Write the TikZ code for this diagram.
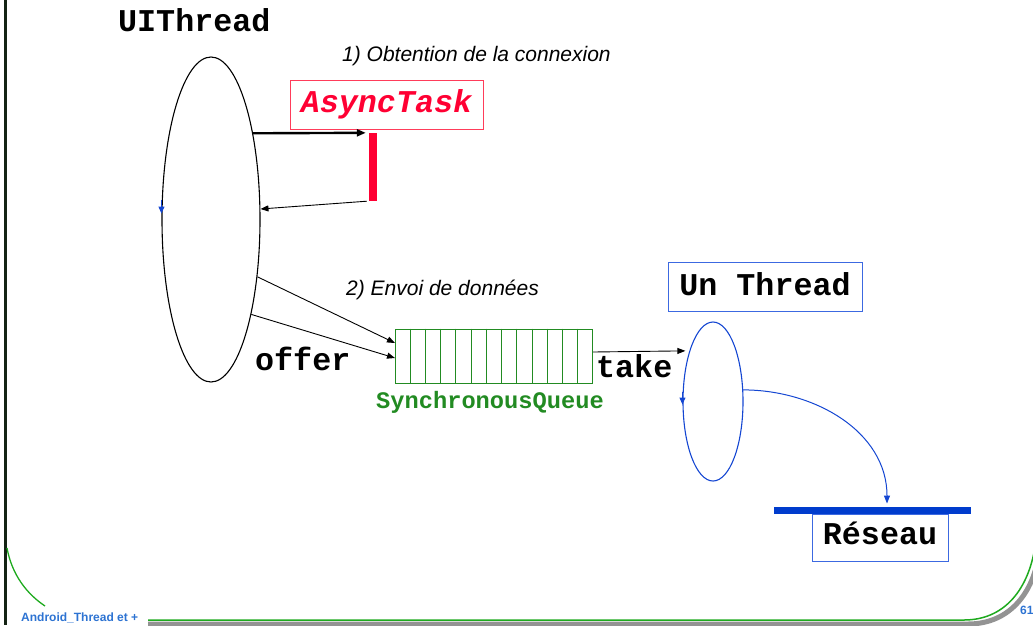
\documentclass[tikz,border=0pt]{standalone}
\usepackage{fontspec}
\setmainfont{Liberation Sans}
\newfontfamily\cour{Liberation Mono}
\usetikzlibrary{shapes.geometric,arrows.meta,calc}

\definecolor{taskred}{RGB}{255,0,51}
\definecolor{taskredbox}{RGB}{255,60,90}
\definecolor{qgreen}{RGB}{34,139,34}
\definecolor{thblue}{RGB}{20,70,210}
\definecolor{boxblue}{RGB}{60,105,225}
\definecolor{barblue}{RGB}{0,60,205}
\definecolor{footblue}{RGB}{45,115,210}
\definecolor{framegreen}{RGB}{30,170,30}
\definecolor{framedark}{RGB}{20,35,20}

\begin{document}
\begin{tikzpicture}[x=1pt,y=-1pt,
  mono/.style={font=\cour\bfseries\fontsize{31.7}{34}\selectfont, inner sep=0pt},
  monosmall/.style={font=\cour\bfseries\fontsize{23.7}{26}\selectfont, inner sep=0pt},
  stepnote/.style={font=\itshape\fontsize{21}{24}\selectfont, inner sep=0pt, anchor=base west},
  thinarrow/.style={-{Triangle[length=8pt,width=6pt]}, line width=0.9pt},
  qline/.style={draw=qgreen, line width=1pt},
  foot/.style={font=\bfseries\fontsize{12}{14}\selectfont, text=footblue, inner sep=0pt, anchor=base west}]

\useasboundingbox (0,0) rectangle (1033,625);

% slide frame
\draw[framedark, line width=3pt] (5,0) -- (5,625);
\draw[framegreen, line width=1.3pt] (7,548) .. controls (12,575) and (27,594) .. (45,606);
\draw[gray!85, line width=5pt] (148,624) -- (968,624) .. controls (1010,624) and (1036,592) .. (1040,545);
\draw[framegreen, line width=1.5pt] (148,620) -- (964,620) .. controls (1004,620) and (1030,590) .. (1036,540);
\node[foot] (foottxt) at (21,621.5) {Android\_Thread et +};
\node[foot] (pagenum) at (1020,614.5) {61};

% UI thread
\node[mono, anchor=base west] (uitxt) at (118,31) {UIThread};
\node[ellipse, draw, line width=1.1pt, minimum width=98pt, minimum height=325pt, inner sep=0pt] (ui) at (211,219.5) {};
\draw[thblue, line width=1pt, -{Triangle[length=7pt,width=6pt]}] ($(ui.west)+(0,-20)$) -- ($(ui.west)+(0,-6)$);

% step 1: AsyncTask
\node[stepnote] (step1) at (342,61) {1) Obtention de la connexion};
\node[mono, font=\cour\bfseries\itshape\fontsize{31.7}{34}\selectfont, text=taskred, draw=taskredbox, line width=1pt,
      minimum width=193pt, minimum height=49pt, text height=24pt, text depth=7.6pt] (task) at (386.5,104.5) {AsyncTask};
\node[fill=taskred, minimum width=8pt, minimum height=68pt, inner sep=0pt] (bar) at (373,167) {};
\draw[-{Triangle[length=9pt,width=7pt]}, line width=2.4pt, shorten >=3pt] (ui.64.4) -- (bar.north west);
\draw[thinarrow] ($(bar.south west)+(-2,0)$) -- (ui.12.1);

% step 2: queue
\node[stepnote] (step2) at (346,295) {2) Envoi de données};
\node[draw=qgreen, line width=1pt, minimum width=197pt, minimum height=54pt, inner sep=0pt] (q) at (494,356) {};
\foreach \k in {1,...,12}
  \draw[qline] ($(q.north west)!\k/13!(q.north east)$) -- ($(q.south west)!\k/13!(q.south east)$);
\node[monosmall, text=qgreen, anchor=base west] (qtxt) at (376,408) {SynchronousQueue};
\draw[thinarrow] (ui.-51.5) -- ($(q.west)+(0,-13)$);
\draw[thinarrow] (ui.-67.5) -- ($(q.west)+(0,2)$);
\node[mono, anchor=base west] (offer) at (255,370) {offer};

% worker thread
\node[mono, draw=boxblue, line width=1pt, minimum width=194pt, minimum height=49pt,
      text height=24pt, text depth=7pt] (thbox) at (765,286.5) {Un Thread};
\node[ellipse, draw=thblue, line width=1.1pt, minimum width=60pt, minimum height=159pt, inner sep=0pt] (th) at (713,401.5) {};
\draw[thblue, line width=1pt, -{Triangle[length=7pt,width=6pt]}] ($(th.west)+(0,-10)$) -- ($(th.west)+(0,3)$);
\draw[thinarrow, shorten >=4pt] ($(q.east)+(0,-4)$) -- (th.115.4);
\node[mono, anchor=base west] (take) at (596,377) {take};

% network
\node[mono, draw=boxblue, line width=1pt, minimum width=136pt, minimum height=47pt,
      text height=20pt, text depth=7pt] (net) at (880,537.5) {Réseau};
\node[fill=barblue, minimum width=197pt, minimum height=7.5pt, inner sep=0pt] (netbar) at (872.5,510.5) {};
\draw[thblue, line width=1pt, -{Triangle[length=8pt,width=6pt]}] (th.21.2) to[out=0,in=90] ($(netbar.north)+(14.5,-3)$);

\end{tikzpicture}
\end{document}
